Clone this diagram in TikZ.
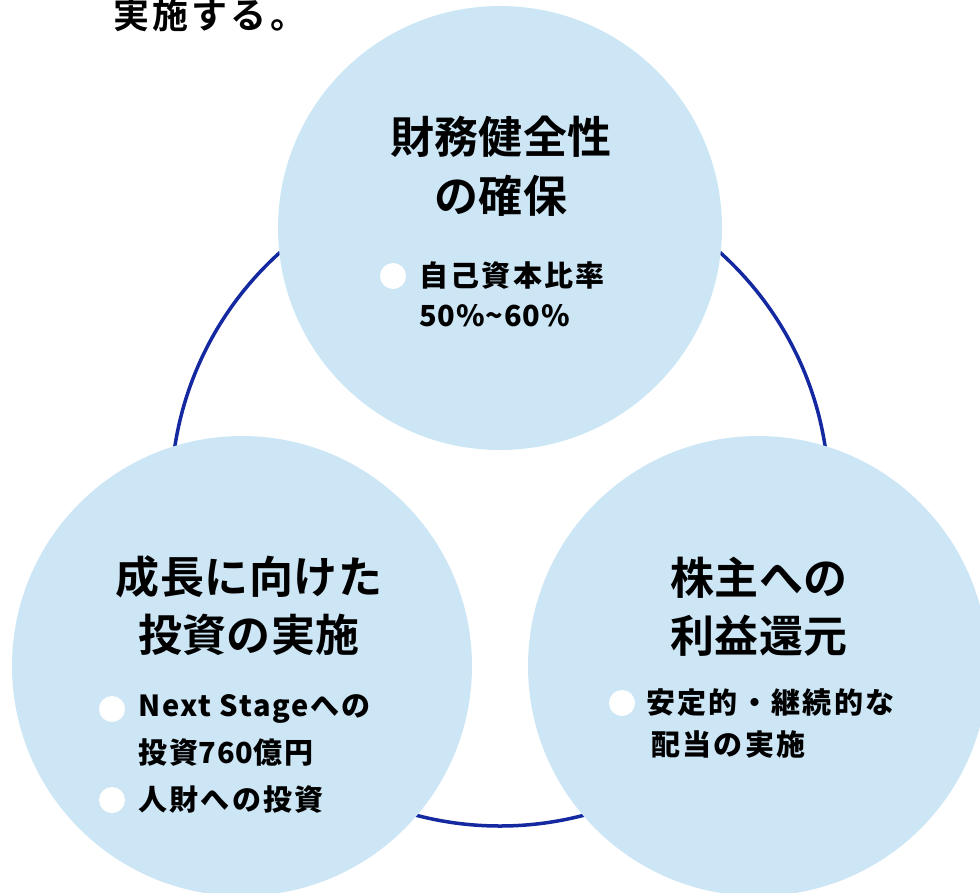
\documentclass[tikz,border=0pt]{standalone}
\usepackage{fontspec}
\newfontfamily\jp{Noto Sans CJK JP}[BoldFont={Noto Sans CJK JP Bold},LetterSpace=9]
\newfontfamily\jpt{Noto Sans CJK JP}[BoldFont={Noto Sans CJK JP Bold},LetterSpace=1]
\newfontfamily\jpb{Noto Sans CJK JP Black}[LetterSpace=8]
\newfontfamily\jpl{Noto Sans CJK JP Black}[LetterSpace=3]
\newfontfamily\jpn{Noto Sans CJK JP Black}[LetterSpace=6]
\definecolor{bubble}{RGB}{205,230,245}
\definecolor{ring}{RGB}{20,40,160}
\tikzset{
  bubblec/.style={fill=bubble,draw=none},
  title/.style={inner sep=0pt,font=\jpt\bfseries\fontsize{44}{48}\selectfont,text=black},
  item/.style={inner sep=0pt,anchor=west,font=\jpb\fontsize{29}{32}\selectfont,text=black},
  dot/.style={circle,fill=white,draw=none,minimum size=26pt,inner sep=0pt},
  headline/.style={inner sep=0pt,anchor=west,font=\jp\bfseries\fontsize{36}{40}\selectfont,text=black}
}
\begin{document}
\begin{tikzpicture}[x=1pt,y=-1pt]
\useasboundingbox (0,0) rectangle (980,892);
\node[headline] (head) at (113,15) {実施する。};
% ring
\node[circle,draw=ring,line width=3.5pt,minimum size=658pt,inner sep=0pt] (ringc) at (500,497) {};
% bubbles
\fill[bubblec] (500,228) circle[radius=222pt];
\fill[bubblec] (242,666) circle[radius=230pt];
\fill[bubblec] (758,666) circle[radius=230pt];
% top
\node[title] (t1) at (501,137) {財務健全性};
\node[title] (t2) at (501,196) {の確保};
\node[dot] (d1) at (393,276) {};
\node[item] (i1) at (419,276) {自己資本比率};
\node[item] (i2) at (419,316) {{\jpl 50\%\textasciitilde60\%}};
% bottom left
\node[title] (l1) at (249,577) {成長に向けた};
\node[title] (l2) at (249,635) {投資の実施};
\node[dot] (d2) at (112,709) {};
\node[item] (j1) at (138,709) {{\jpn Next Stage}\kern2pt へ\kern2pt の};
\node[item] (j2) at (138,753) {投資{\jpl 760}億円};
\node[dot] (d3) at (112,800) {};
\node[item] (j3) at (138,800) {人財への投資};
% bottom right
\node[title] (r1) at (759,578) {株主への};
\node[title] (r2) at (759,636) {利益還元};
\node[dot] (d4) at (622,703) {};
\node[item] (k1) at (646,703) {安定的・継続的な};
\node[item] (k2) at (651,744) {配当の実施};
\end{tikzpicture}
\end{document}
